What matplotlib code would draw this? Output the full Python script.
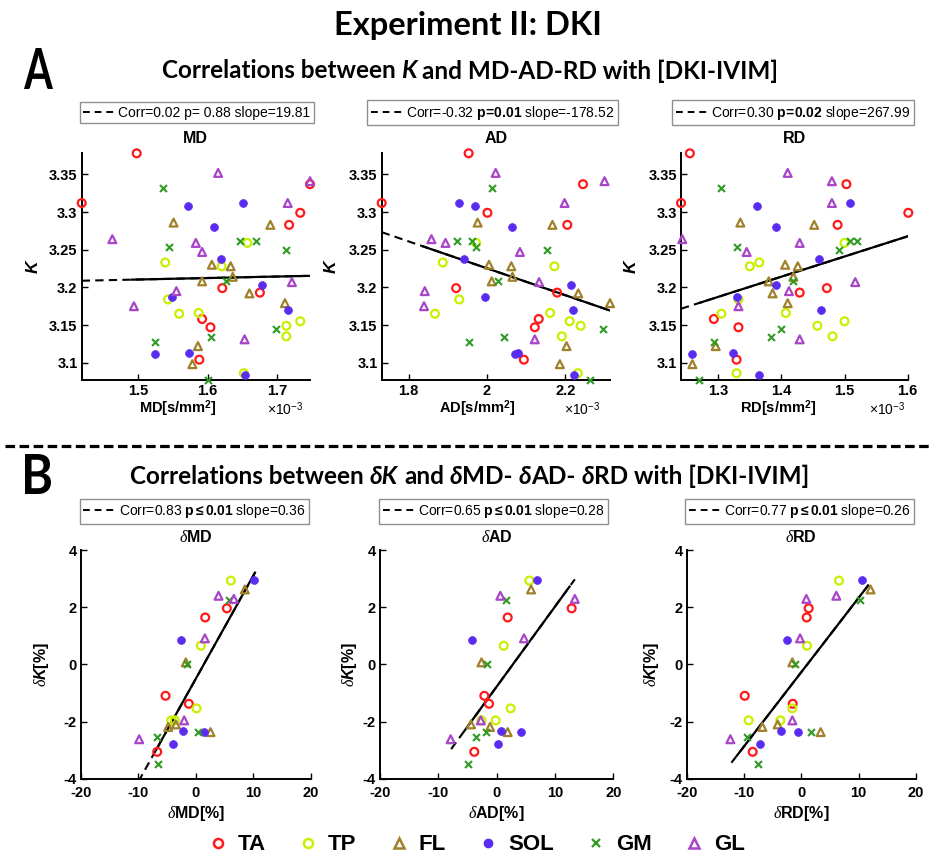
import matplotlib
matplotlib.use("Agg")
import matplotlib.pyplot as plt
from matplotlib.lines import Line2D
from matplotlib.textpath import TextPath
from matplotlib.patches import PathPatch
from matplotlib.font_manager import FontProperties
from matplotlib.transforms import Affine2D, IdentityTransform

plt.rcParams["font.family"] = ["Liberation Sans", "DejaVu Sans"]
plt.rcParams["mathtext.fontset"] = "custom"
plt.rcParams["mathtext.rm"] = "Liberation Sans"
plt.rcParams["mathtext.bf"] = "Liberation Sans:bold"
plt.rcParams["mathtext.it"] = "Liberation Serif:italic"
plt.rcParams["mathtext.bfit"] = "Liberation Sans:bold:italic"

MUSCLES = ["TA", "TP", "FL", "SOL", "GM", "GL"]
COLORS = {"TA": "#ff1a1a", "TP": "#c8f000", "FL": "#a0802a",
          "SOL": "#5a2cf0", "GM": "#2f9a22", "GL": "#a845c8"}
MARKERS = {"TA": "o", "TP": "o", "FL": "^", "SOL": "o", "GM": "x", "GL": "^"}

# kurtosis K and diffusivities (x1e-3 mm^2/s), one entry per subject
K = {
    "TA": [3.378, 3.337, 3.312, 3.299, 3.283, 3.199, 3.193, 3.158, 3.147, 3.104],
    "TP": [3.259, 3.233, 3.228, 3.184, 3.166, 3.165, 3.155, 3.149, 3.135, 3.086],
    "FL": [3.286, 3.283, 3.230, 3.228, 3.214, 3.208, 3.192, 3.179, 3.122, 3.098],
    "SOL": [3.312, 3.308, 3.280, 3.237, 3.203, 3.187, 3.170, 3.113, 3.112, 3.083],
    "GM": [3.332, 3.261, 3.261, 3.254, 3.249, 3.209, 3.145, 3.134, 3.128, 3.077],
    "GL": [3.352, 3.341, 3.312, 3.264, 3.259, 3.247, 3.207, 3.195, 3.175, 3.131],
}
MD = {
    "TA": [1.498, 1.747, 1.419, 1.733, 1.717, 1.621, 1.675, 1.592, 1.604, 1.588],
    "TP": [1.657, 1.539, 1.620, 1.543, 1.587, 1.559, 1.733, 1.713, 1.713, 1.652],
    "FL": [1.551, 1.690, 1.606, 1.633, 1.636, 1.592, 1.660, 1.711, 1.586, 1.578],
    "SOL": [1.651, 1.572, 1.609, 1.619, 1.678, 1.549, 1.716, 1.573, 1.524, 1.653],
    "GM": [1.536, 1.646, 1.669, 1.545, 1.712, 1.627, 1.698, 1.605, 1.524, 1.601],
    "GL": [1.615, 1.747, 1.715, 1.463, 1.583, 1.592, 1.721, 1.555, 1.494, 1.653],
}
AD = {
    "TA": [1.953, 2.245, 1.731, 2.001, 2.205, 1.921, 2.179, 2.132, 2.122, 2.094],
    "TP": [1.972, 1.887, 2.172, 1.929, 2.161, 1.867, 2.211, 2.239, 2.191, 2.232],
    "FL": [1.976, 2.167, 2.005, 2.062, 2.065, 2.012, 2.233, 2.314, 2.203, 2.186],
    "SOL": [1.929, 1.970, 2.065, 1.940, 2.215, 1.996, 2.220, 2.080, 2.071, 2.223],
    "GM": [2.013, 1.924, 1.961, 1.972, 2.152, 2.028, 2.296, 2.044, 1.955, 2.264],
    "GL": [2.022, 2.300, 2.198, 1.858, 1.894, 2.084, 2.133, 1.841, 1.839, 2.122],
}
RD = {
    "TA": [1.255, 1.503, 1.241, 1.601, 1.489, 1.472, 1.429, 1.293, 1.332, 1.329],
    "TP": [1.500, 1.365, 1.350, 1.332, 1.407, 1.305, 1.500, 1.457, 1.481, 1.329],
    "FL": [1.335, 1.452, 1.406, 1.426, 1.419, 1.380, 1.386, 1.410, 1.296, 1.259],
    "SOL": [1.509, 1.362, 1.392, 1.460, 1.391, 1.329, 1.462, 1.323, 1.259, 1.364],
    "GM": [1.305, 1.508, 1.520, 1.330, 1.491, 1.418, 1.400, 1.384, 1.293, 1.269],
    "GL": [1.410, 1.480, 1.480, 1.243, 1.429, 1.345, 1.517, 1.412, 1.332, 1.429],
}

# percent changes (DKI vs IVIM)
dK = {
    "TA": [1.96, 1.64, -1.10, -1.38, -3.06],
    "TP": [2.93, 0.65, -1.54, -1.96, -1.96],
    "FL": [2.62, 0.07, -2.10, -2.19, -2.37],
    "SOL": [2.94, 0.86, -2.33, -2.35, -2.77],
    "GM": [2.24, 0.00, -2.55, -2.35, -3.50],
    "GL": [2.40, 2.29, 0.91, -1.96, -2.62],
}
dMD = {
    "TA": [5.40, 1.63, -5.28, -1.22, -6.73],
    "TP": [6.10, 0.87, 0.12, -3.66, -4.30],
    "FL": [8.53, -1.74, -3.48, -4.82, 2.55],
    "SOL": [10.16, -2.50, -2.20, 1.45, -4.06],
    "GM": [5.81, -1.57, -6.73, 0.40, -6.62],
    "GL": [3.95, 6.62, 1.57, -2.03, -9.87],
}
dAD = {
    "TA": [12.86, 1.89, -2.11, -1.31, -3.83],
    "TP": [5.60, 1.20, 2.40, -0.17, -2.60],
    "FL": [5.90, -2.60, -4.40, -1.14, 1.89],
    "SOL": [7.00, -4.30, 0.69, 4.17, 0.29],
    "GM": [1.54, -1.71, -3.54, -1.75, -4.83],
    "GL": [0.63, 13.40, 4.69, -2.72, -7.89],
}
dRD = {
    "TA": [1.28, 0.93, -9.88, -1.51, -8.49],
    "TP": [6.57, 0.99, -1.57, -3.66, -9.19],
    "FL": [12.07, -1.57, -4.13, -6.80, 3.37],
    "SOL": [10.60, -2.44, -3.49, -0.58, -7.15],
    "GM": [10.29, -1.05, -9.48, 1.63, -7.56],
    "GL": [6.10, 0.87, -0.23, -1.57, -12.38],
}

# regression summaries: corr, p text, slope, intercept
TOP_NAMES = ["MD", "AD", "RD"]
TOP_CORR = ["0.02", "-0.32", "0.30"]
TOP_P = ["p= 0.88", "p=0.01", "p=0.02"]
TOP_P_BOLD = [False, True, True]
TOP_SLOPE = [19.81, -178.52, 267.99]
TOP_INTERCEPT = [3.1807, 3.5823, 2.8390]
TOP_DASH_END = [1.491, 1.837, 1.272]
TOP_XTICKS = [[1.5, 1.6, 1.7], [1.8, 2.0, 2.2], [1.3, 1.4, 1.5, 1.6]]
TOP_XTICKLABELS = [["1.5", "1.6", "1.7"], ["1.8", "2", "2.2"], ["1.3", "1.4", "1.5", "1.6"]]
K_TICKS = [3.1, 3.15, 3.2, 3.25, 3.3, 3.35]
K_TICKLABELS = ["3.1", "3.15", "3.2", "3.25", "3.3", "3.35"]

BOT_NAMES = ["MD", "AD", "RD"]
BOT_CORR = ["0.83", "0.65", "0.77"]
BOT_P = "p<=0.01"
BOT_SLOPE = [0.36, 0.28, 0.26]
BOT_INTERCEPT = [-0.50, -0.78, -0.27]
BOT_LINE_X = [(-10.0, 10.3), (-7.8, 13.4), (-12.2, 12.1)]
BOT_SOLID_X = [(-6.9, 10.3), (-5.5, 12.5), (-11.2, 11.6)]
PCT_TICKS_X = [-20, -10, 0, 10, 20]
PCT_TICKS_Y = [-4, -2, 0, 2, 4]

FIG_W, FIG_H = 935, 861
fig = plt.figure(figsize=(FIG_W / 100, FIG_H / 100), dpi=100)


def px_axes(left, top, right, bottom):
    return fig.add_axes([left / FIG_W, 1 - bottom / FIG_H,
                         (right - left) / FIG_W, (bottom - top) / FIG_H])


def style_axes(ax):
    for side in ("top", "right"):
        ax.spines[side].set_visible(False)
    for side in ("left", "bottom"):
        ax.spines[side].set_linewidth(1.4)
    ax.tick_params(direction="in", length=4, width=1.0, labelsize=10.5, pad=3)


def scatter_groups(ax, xs, ys):
    for m in MUSCLES:
        c = COLORS[m]
        if m == "SOL":
            ax.scatter(xs[m], ys[m], s=32, marker="o", color=c, edgecolors=c,
                       linewidths=0.5, clip_on=False, zorder=3)
        elif m == "GM":
            ax.scatter(xs[m], ys[m], s=25, marker="x", color=c,
                       linewidths=1.5, clip_on=False, zorder=3)
        else:
            ax.scatter(xs[m], ys[m], s=32, marker=MARKERS[m], facecolors="none",
                       edgecolors=c, linewidths=1.6, clip_on=False, zorder=3)


def fit_legend(ax, label, cx, cy):
    h = Line2D([], [], color="k", ls=(0, (3.5, 2.5)), lw=1.4)
    leg = ax.legend([h], [label], loc="center", bbox_to_anchor=(cx, cy),
                    bbox_transform=ax.transAxes, frameon=True, fancybox=False,
                    edgecolor="0.45", fontsize=10, handlelength=2.4,
                    handletextpad=0.15, borderpad=0.25, borderaxespad=0)
    leg.get_frame().set_linewidth(1.0)


def bold_p(txt):
    # bold p-value; "=" is pulled tight, "<=" keeps a little air
    if "<=" in txt:
        txt = txt.replace("<=", r"\leq")
    else:
        txt = txt.replace("=", r"\!=\!")
    return r"$\mathbf{" + txt + "}$"


# ---- panel A: K against MD / AD / RD
top_boxes = [(81.7, 153.3, 310.0, 380.0), (381.7, 153.3, 610.0, 380.0),
             (681.0, 153.3, 908.3, 380.0)]
top_data = [MD, AD, RD]
top_leg_x = [0.504, 0.487, 0.493]
top_xlab_x = [0.42, 0.42, 0.427]
top_exp_x = [0.89, 0.88, 0.906]
top_ylab_x = [-0.178, -0.19, -0.185]

all_k = [v for m in MUSCLES for v in K[m]]
for i in range(3):
    ax = px_axes(*top_boxes[i])
    style_axes(ax)
    xd = top_data[i]
    scatter_groups(ax, xd, K)
    xall = [v for m in MUSCLES for v in xd[m]]
    x0, x1 = min(xall), max(xall)
    ax.set_xlim(x0, x1)
    ax.set_ylim(min(all_k), max(all_k))

    s = TOP_SLOPE[i] * 1e-3
    b = TOP_INTERCEPT[i]
    ax.plot([x0, x1], [b + s * x0, b + s * x1], color="k", lw=1.5,
            ls=(0, (4, 2.5)), zorder=2)
    xs = TOP_DASH_END[i]
    ax.plot([xs, x1], [b + s * xs, b + s * x1], color="k", lw=1.6, zorder=2)

    ax.set_xticks(TOP_XTICKS[i], TOP_XTICKLABELS[i], fontweight="bold")
    ax.set_yticks(K_TICKS, K_TICKLABELS, fontweight="bold")
    ax.set_ylabel("K", fontstyle="italic", fontweight="bold", fontsize=12.5)
    ax.yaxis.set_label_coords(top_ylab_x[i], 0.5)
    ax.text(top_xlab_x[i], -0.125, TOP_NAMES[i] + r"[s/mm$^\mathbf{2}$]",
            transform=ax.transAxes, ha="center", va="center",
            fontweight="bold", fontsize=10.5)
    ax.text(top_exp_x[i], -0.128, r"$\times$10$^{-3}$", transform=ax.transAxes,
            ha="center", va="center", fontsize=10)
    ax.text(0.5, 1.067, TOP_NAMES[i], transform=ax.transAxes, ha="center",
            va="center", fontweight="bold", fontsize=11.5)

    p_txt = bold_p(TOP_P[i]) if TOP_P_BOLD[i] else TOP_P[i]
    label = f"Corr={TOP_CORR[i]} {p_txt} slope={TOP_SLOPE[i]:.2f}"
    fit_legend(ax, label, top_leg_x[i], 1.178)

# ---- panel B: dK against dMD / dAD / dRD
bot_boxes = [(81.0, 550.0, 310.7, 778.7), (380.0, 550.0, 613.3, 778.7),
             (686.7, 550.0, 916.0, 778.7)]
bot_data = [dMD, dAD, dRD]
bot_leg_x = [0.494, 0.488, 0.494]
bot_ylab_x = [-0.13, -0.09, -0.112]

for i in range(3):
    ax = px_axes(*bot_boxes[i])
    style_axes(ax)
    ax.tick_params(axis="x", pad=5)
    scatter_groups(ax, bot_data[i], dK)
    ax.set_xlim(-20, 20)
    ax.set_ylim(-4, 4)

    s = BOT_SLOPE[i]
    b = BOT_INTERCEPT[i]
    x0, x1 = BOT_LINE_X[i]
    ax.plot([x0, x1], [b + s * x0, b + s * x1], color="k", lw=1.5,
            ls=(0, (4, 2.5)), zorder=2)
    xa, xb = BOT_SOLID_X[i]
    ax.plot([xa, xb], [b + s * xa, b + s * xb], color="k", lw=1.6, zorder=2)

    ax.set_xticks(PCT_TICKS_X, [str(t) for t in PCT_TICKS_X], fontweight="bold")
    ax.set_yticks(PCT_TICKS_Y, [str(t) for t in PCT_TICKS_Y], fontweight="bold")
    ax.set_ylabel(r"$\delta\mathbfit{K}$[%]", fontweight="bold", fontsize=11.5)
    ax.yaxis.set_label_coords(bot_ylab_x[i], 0.5)
    ax.set_xlabel(r"$\delta$" + BOT_NAMES[i] + "[%]", fontweight="bold",
                  fontsize=11.5, labelpad=3)
    ax.text(0.5, 1.058, r"$\delta$" + BOT_NAMES[i], transform=ax.transAxes,
            ha="center", va="center", fontweight="bold", fontsize=11.5)

    label = f"Corr={BOT_CORR[i]} " + bold_p(BOT_P) + f" slope={BOT_SLOPE[i]:.2f}"
    fit_legend(ax, label, bot_leg_x[i], 1.169)

# ---- headings
HEAD_FONT = ["Lato", "DejaVu Sans"]
renderer = fig.canvas.get_renderer()


def text_width(s, style, size):
    t = fig.text(0, 0, s, family=HEAD_FONT, weight="bold", style=style, size=size)
    w = t.get_window_extent(renderer).width
    t.remove()
    return w


def rich_line(pieces, xc, yc, size):
    space = text_width("a a", "normal", size) - text_width("aa", "normal", size)
    layout = []
    total = 0.0
    for s, style in pieces:
        core = s.strip()
        lead = len(s) - len(s.lstrip())
        trail = len(s) - len(s.rstrip())
        w = text_width(core, style, size)
        layout.append((core, style, total + lead * space))
        total += lead * space + w + trail * space
    x_start = xc - total / 2
    for core, style, off in layout:
        fig.text((x_start + off) / FIG_W, 1 - yc / FIG_H, core, family=HEAD_FONT,
                 weight="bold", style=style, size=size, va="center", ha="left")


def panel_letter(s, left, top, width, height):
    tp = TextPath((0, 0), s, size=1, prop=FontProperties(family=HEAD_FONT, weight="bold"))
    ext = tp.get_extents()
    tr = (Affine2D().translate(-ext.x0, -ext.y0)
          .scale(width / ext.width, height / ext.height)
          .translate(left, FIG_H - top - height))
    fig.add_artist(PathPatch(tr.transform_path(tp), facecolor="k", lw=0,
                             transform=IdentityTransform()))


fig.text(0.5, 1 - 25 / FIG_H, "Experiment II: DKI", family=HEAD_FONT,
         weight="bold", size=23.5, ha="center", va="center")
panel_letter("A", 24, 48, 29, 41)
panel_letter("B", 25, 454, 26, 40)
rich_line([("Correlations between ", "normal"), ("K", "italic"),
           (" and MD-AD-RD with [DKI-IVIM]", "normal")], 470, 71, 17.5)
rich_line([("Correlations between ", "normal"), ("\u03b4K", "italic"),
           (" and ", "normal"), ("\u03b4", "italic"), ("MD- ", "normal"),
           ("\u03b4", "italic"), ("AD- ", "normal"), ("\u03b4", "italic"),
           ("RD with [DKI-IVIM]", "normal")], 470, 476, 17.5)

fig.add_artist(Line2D([5 / FIG_W, 930 / FIG_W], [1 - 446 / FIG_H] * 2,
                      color="k", lw=2.3, ls=(0, (3, 1.4))))

# ---- muscle legend
handles = []
for m in MUSCLES:
    c = COLORS[m]
    if m == "GM":
        handles.append(Line2D([], [], ls="none", marker="x", color=c, ms=6, mew=1.6))
    elif m == "SOL":
        handles.append(Line2D([], [], ls="none", marker="o", color=c, ms=6))
    else:
        handles.append(Line2D([], [], ls="none", marker=MARKERS[m], mfc="none",
                              mec=c, ms=6.5, mew=1.8))
fig.legend(handles, MUSCLES, loc="center", bbox_to_anchor=(0.51, 1 - 845 / FIG_H),
           ncol=6, frameon=False, handlelength=0.8, handletextpad=0.5,
           columnspacing=1.5, prop={"weight": "bold", "size": 16})

fig.savefig("out.png", dpi=100)
